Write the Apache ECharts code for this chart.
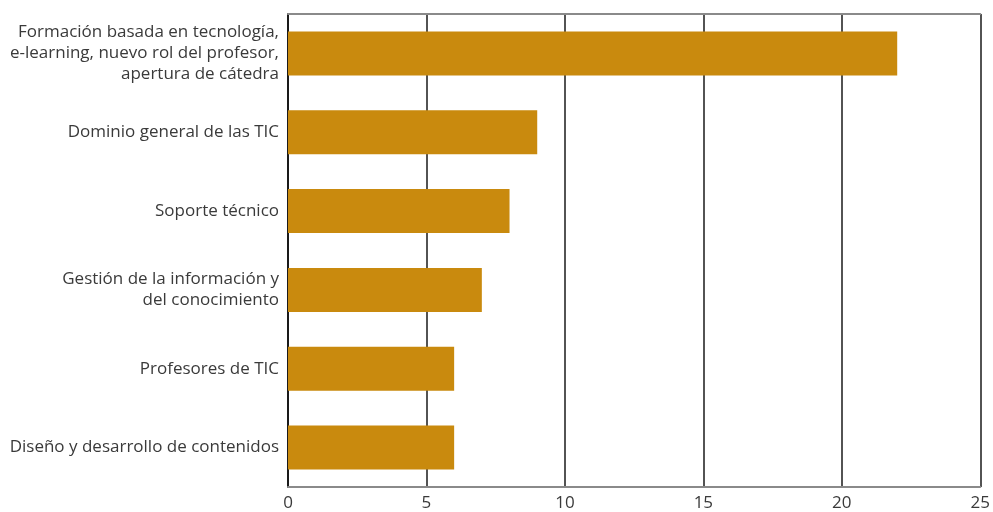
<!DOCTYPE html>
<html>
<head>
<meta charset="utf-8">
<script src="https://cdn.jsdelivr.net/npm/echarts@6/dist/echarts.min.js"></script>
<style>
  html, body { margin: 0; padding: 0; background: #fff; }
  #chart { width: 993px; height: 512px; }
</style>
</head>
<body>
<div id="chart"></div>
<script>
// Categories, top to bottom
const categories = [
  'Formación basada en tecnología,\ne-learning, nuevo rol del profesor,\napertura de cátedra',
  'Dominio general de las TIC',
  'Soporte técnico',
  'Gestión de la información y\ndel conocimiento',
  'Profesores de TIC',
  'Diseño y desarrollo de contenidos'
];
const values = [22, 9, 8, 7, 6, 6];
const xTicks = [0, 5, 10, 15, 20, 25];

const chart = echarts.init(document.getElementById('chart'));
const font = '"Open Sans", "Noto Sans", sans-serif';

chart.setOption({
  animation: false,
  grid: { left: 288, right: 12, top: 14, bottom: 25, containLabel: false },
  xAxis: [
    {
      type: 'value',
      min: xTicks[0],
      max: xTicks[xTicks.length - 1],
      interval: 5,
      position: 'bottom',
      axisLine: { show: true, lineStyle: { color: '#8a8a8a', width: 2 } },
      axisTick: { show: false },
      axisLabel: { color: '#3a3a3a', fontSize: 17, fontFamily: font, margin: 8 },
      splitLine: { show: true, lineStyle: { color: '#1a1a1a', width: 1.5 } }
    },
    {
      type: 'value',
      min: xTicks[0],
      max: xTicks[xTicks.length - 1],
      interval: 5,
      position: 'top',
      axisLine: { show: true, lineStyle: { color: '#8a8a8a', width: 2 } },
      axisTick: { show: false },
      axisLabel: { show: false },
      splitLine: { show: false }
    }
  ],
  yAxis: {
    type: 'category',
    data: categories,
    inverse: true,
    axisLine: { show: true, lineStyle: { color: '#1a1a1a', width: 2 } },
    axisTick: { show: false },
    axisLabel: {
      color: '#3a3a3a',
      fontSize: 17,
      fontFamily: font,
      lineHeight: 21,
      align: 'right',
      margin: 9
    }
  },
  series: [{
    type: 'bar',
    xAxisIndex: 0,
    data: values,
    barWidth: 44,
    itemStyle: { color: '#C98A0E' }
  }]
});
</script>
</body>
</html>
